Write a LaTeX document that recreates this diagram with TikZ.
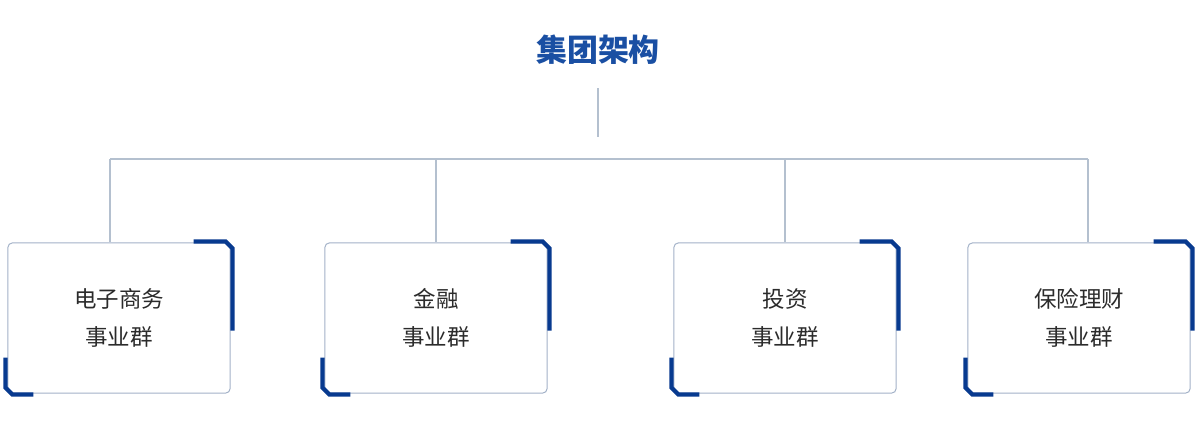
\documentclass[tikz,border=0pt]{standalone}
\usepackage{fontspec}
\newfontfamily\cjk{Noto Sans CJK SC}
\usetikzlibrary{calc}
\definecolor{deepblue}{HTML}{083A8F}
\definecolor{titleblue}{HTML}{1A4FA3}
\definecolor{wire}{HTML}{B4C0CF}
\definecolor{frame}{HTML}{A3B2C8}
\definecolor{inktext}{HTML}{2B2B2B}
\def\cornermark(#1){\draw[markline] ($(#1.north east)+(-37,-1)$) -- ($(#1.north east)+(-5,-1)$) -- ($(#1.north east)+(2,6)$) -- ($(#1.north east)+(2,88)$);
	\draw[markline] ($(#1.south west)+(-2,-36)$) -- ($(#1.south west)+(-2,-6)$) -- ($(#1.south west)+(5,1)$) -- ($(#1.south west)+(26,1)$);}

\begin{document}
\begin{tikzpicture}[x=0.025cm, y=-0.025cm,
	unitbox/.style={draw=frame, line width=0.7pt, fill=white, rounded corners=3pt, minimum width=5.55cm, minimum height=3.75cm, align=center, font=\cjk\fontsize{16}{27}\selectfont, text=inktext, inner sep=0pt},
	markline/.style={draw=deepblue, line width=3pt},
	wireline/.style={draw=wire, line width=0.8pt}]
		%%%%% START %%%%%
		
		\useasboundingbox[fill=white] (0, 0) rectangle (1200, 443);
		
		\node[font=\cjk\bfseries\fontsize{22}{26}\selectfont, text=titleblue] (group) at (598, 50) {集团架构};
		\draw[wireline] (598, 88) -- (598, 137);
		
		\draw[wireline] (110, 159) -- (1088, 159);
		\coordinate (tapA) at (110, 159);
		\coordinate (tapB) at (436, 159);
		\coordinate (tapC) at (785, 159);
		\coordinate (tapD) at (1088, 159);
		
		\node[unitbox] (ecom) at (119, 318) {电子商务\\事业群};
		\node[unitbox] (finance) at (436, 318) {金融\\事业群};
		\node[unitbox] (invest) at (785, 318) {投资\\事业群};
		\node[unitbox] (insure) at (1079, 318) {保险理财\\事业群};
		
		\draw[wireline] (tapA) -- (tapA |- ecom.north);
		\draw[wireline] (tapB) -- (finance.north);
		\draw[wireline] (tapC) -- (invest.north);
		\draw[wireline] (tapD) -- (tapD |- insure.north);
		
		\cornermark(ecom)
		\cornermark(finance)
		\cornermark(invest)
		\cornermark(insure)
		
		%%%%% END %%%%%
\end{tikzpicture}
\end{document}
